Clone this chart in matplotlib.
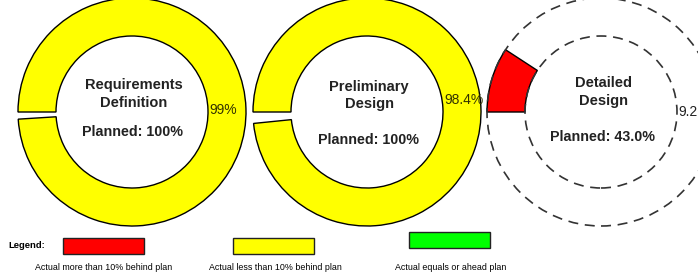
import matplotlib
matplotlib.use("Agg")
import matplotlib.pyplot as plt
from matplotlib.patches import Circle, Rectangle

plt.rcParams['font.family'] = ['Liberation Sans', 'DejaVu Sans']

# ---- data ----
phases = ["Requirements\nDefinition", "Preliminary\nDesign", "Detailed\nDesign"]
actual_pct = [99.0, 98.4, 9.2]
actual_labels = ["99%", "98.4%", "9.2"]
planned_pct = [100.0, 100.0, 43.0]
planned_labels = ["Planned: 100%", "Planned: 100%", "Planned: 43.0%"]
status_colors = ["#FFFF00", "#FFFF00", "#FF0000"]
legend_labels = ["Actual more than 10% behind plan",
                 "Actual less than 10% behind plan",
                 "Actual equals or ahead plan"]
legend_colors = ["#FF0000", "#FFFF00", "#00FF00"]

W, H = 698, 275
fig = plt.figure(figsize=(W / 100, H / 100), dpi=100)
ax = fig.add_axes([0, 0, 1, 1])


def py(y):
    return H - y


centers_x = [132, 367, 601]
center_y = 112
R_out, R_in = 114, 76
title_y = [(85, 103), (87, 104), (83, 101)]
planned_y = [132, 140, 137]
label_y = [110, 100, 112]

for i in range(3):
    cx = centers_x[i]
    val = actual_pct[i]
    wedges, _ = ax.pie([val, 100 - val], colors=[status_colors[i], 'none'],
                       startangle=180, counterclock=False,
                       center=(cx, py(center_y)), radius=R_out,
                       wedgeprops=dict(width=R_out - R_in, linewidth=1.0),
                       frame=True)
    wedges[0].set_edgecolor('black')
    wedges[1].set_edgecolor('none')
    if planned_pct[i] < 100:
        for r in (R_out, R_in):
            ax.add_patch(Circle((cx, py(center_y)), r, fill=False,
                                edgecolor='#333333', linestyle=(0, (6, 4)),
                                linewidth=1.2))
    for line, ly in zip(phases[i].split("\n"), title_y[i]):
        ax.text(cx + 2, py(ly), line, ha='center', va='center',
                fontsize=10.5, fontweight='bold', color='#222222')
    ax.text(cx + 1, py(planned_y[i]), planned_labels[i], ha='center',
            va='center', fontsize=10.3, fontweight='bold', color='#222222')
    ax.text(cx + R_in + 1, py(label_y[i]), actual_labels[i], ha='left',
            va='center', fontsize=10, color='#333300' if i < 2 else '#222222')

ax.set_xlim(0, W)
ax.set_ylim(0, H)
ax.set_aspect('equal')
ax.axis('off')

# ---- legend ----
ax.text(8, py(246), "Legend:", ha='left', va='center', fontsize=6.8,
        fontweight='bold', color='black')
leg_x = [63, 233, 409]
leg_y = [238, 238, 232]
leg_text_x = [104, 275, 451]
for i in range(3):
    ax.add_patch(Rectangle((leg_x[i], py(leg_y[i] + 16)), 81, 16,
                           facecolor=legend_colors[i], edgecolor='#222222',
                           linewidth=1.0))
    ax.text(leg_text_x[i], py(268), legend_labels[i], ha='center',
            va='center', fontsize=6.4, color='black')

fig.savefig("out.png", dpi=100)
